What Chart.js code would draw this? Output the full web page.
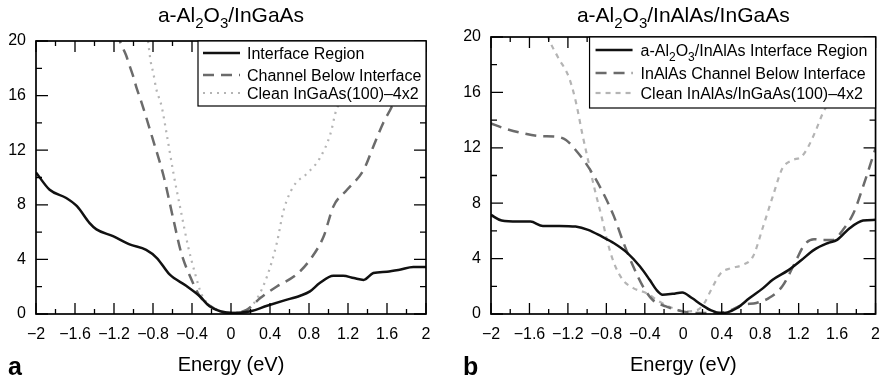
<!DOCTYPE html>
<html><head><meta charset="utf-8">
<script src="https://cdn.jsdelivr.net/npm/chart.js@4"></script>
<style>
html,body{margin:0;padding:0;background:#fff;}
#wrap{position:relative;width:891px;height:384px;overflow:hidden;}
canvas{position:absolute;top:0;}
</style>
</head><body>
<div id="wrap">
<canvas id="ca" width="445" height="384" style="left:0px"></canvas>
<canvas id="cb" width="446" height="384" style="left:445px"></canvas>
</div>
<script>
// ---------- data ----------
const xTicks = [-2, -1.6, -1.2, -0.8, -0.4, 0, 0.4, 0.8, 1.2, 1.6, 2];
const yTicks = [0, 4, 8, 12, 16, 20];
const xAxisTitle = 'Energy (eV)';

const titleA = 'a-Al_2O_3/InGaAs';
const titleB = 'a-Al_2O_3/InAlAs/InGaAs';

const labelsA = ['Interface Region', 'Channel Below Interface', 'Clean InGaAs(100)\u20134x2'];
const labelsB = ['a-Al_2O_3/InAlAs Interface Region', 'InAlAs Channel Below Interface', 'Clean InAlAs/InGaAs(100)\u20134x2'];

// panel a
const energyA1 = [-2, -1.86, -1.69, -1.58, -1.45, -1.38, -1.21, -1.04, -0.87, -0.76, -0.63, -0.46, -0.32, -0.22, -0.11, 0.02, 0.2, 0.37, 0.54, 0.71, 0.81, 0.91, 1.05, 1.15, 1.26, 1.36, 1.46, 1.6, 1.73, 1.87, 2];
const valuesA1 = [10.37, 9.1, 8.5, 7.9, 6.66, 6.2, 5.7, 5.1, 4.7, 4.1, 2.9, 2.07, 1.3, 0.56, 0.2, 0.07, 0.2, 0.6, 0.98, 1.34, 1.66, 2.27, 2.8, 2.8, 2.63, 2.5, 3.0, 3.1, 3.24, 3.44, 3.44];

const energyA2 = [-1.17, -1.131, -1.077, -1.036, -1.002, -0.967, -0.926, -0.8, -0.69, -0.59, -0.51, -0.42, -0.32, -0.18, -0.01, 0.16, 0.3, 0.47, 0.67, 0.81, 0.95, 1.05, 1.19, 1.36, 1.46, 1.56, 1.65, 1.75, 1.85, 1.93];
const valuesA2 = [20.6, 19.83, 18.97, 18.1, 17.39, 16.53, 15.68, 12.76, 10.07, 6.9, 4.46, 2.76, 1.3, 0.44, 0.07, 0.3, 1.17, 2.02, 2.88, 3.97, 5.68, 7.88, 9.1, 10.56, 12.27, 13.98, 15.2, 17.0, 19.0, 20.6];

const energyA3 = [-0.87, -0.851, -0.824, -0.797, -0.769, -0.711, -0.66, -0.59, -0.51, -0.44, -0.37, -0.3, -0.18, -0.01, 0.16, 0.26, 0.37, 0.47, 0.54, 0.64, 0.78, 0.91, 1.02, 1.08, 1.135, 1.2, 1.26, 1.3];
const valuesA3 = [21.0, 20.0, 18.5, 17.66, 16.56, 15.19, 13.2, 10.3, 7.4, 4.95, 3.0, 1.41, 0.44, 0.07, 0.3, 1.05, 2.76, 5.2, 7.6, 9.34, 10.3, 11.4, 13.2, 14.95, 15.7, 17.5, 19.5, 20.8];

// panel b
const energyB1 = [-2, -1.89, -1.72, -1.59, -1.46, -1.29, -1.12, -0.99, -0.85, -0.72, -0.58, -0.45, -0.35, -0.28, -0.215, -0.11, -0.01, 0.09, 0.19, 0.29, 0.39, 0.46, 0.56, 0.69, 0.83, 0.93, 1.09, 1.23, 1.36, 1.5, 1.6, 1.73, 1.87, 2];
const valuesB1 = [7.15, 6.75, 6.67, 6.67, 6.36, 6.36, 6.31, 6.07, 5.6, 5.11, 4.4, 3.43, 2.47, 1.75, 1.39, 1.46, 1.56, 1.15, 0.67, 0.26, 0.07, 0.12, 0.43, 1.15, 1.87, 2.47, 3.15, 3.9, 4.63, 5.11, 5.35, 6.19, 6.75, 6.8];

const energyB2 = [-2, -1.86, -1.66, -1.49, -1.32, -1.22, -1.12, -0.99, -0.85, -0.72, -0.62, -0.52, -0.42, -0.32, -0.18, -0.01, 0.15, 0.32, 0.46, 0.62, 0.76, 0.89, 1.03, 1.16, 1.26, 1.36, 1.46, 1.56, 1.66, 1.77, 1.87, 2];
const valuesB2 = [13.76, 13.4, 13.04, 12.85, 12.8, 12.56, 11.84, 10.64, 8.96, 7.03, 5.11, 3.43, 2.0, 1.03, 0.55, 0.19, 0.07, 0.07, 0.19, 0.67, 0.8, 1.15, 2.0, 3.67, 5.0, 5.4, 5.35, 5.35, 6.07, 7.27, 9.2, 11.96];

const energyB3 = [-1.44, -1.406, -1.305, -1.19, -1.12, -1.05, -0.99, -0.92, -0.85, -0.785, -0.72, -0.63, -0.52, -0.38, -0.25, -0.11, 0.02, 0.15, 0.22, 0.29, 0.39, 0.49, 0.62, 0.725, 0.83, 0.93, 1.03, 1.13, 1.23, 1.3, 1.38, 1.45, 1.5, 1.56, 1.62];
const valuesB3 = [20.8, 20, 18.56, 17.1, 15.4, 13.0, 11.1, 8.96, 7.03, 5.11, 3.67, 2.47, 1.87, 1.5, 0.9, 0.43, 0.19, 0.3, 0.8, 1.75, 2.95, 3.3, 3.55, 4.15, 6.3, 8.47, 10.5, 11.1, 11.36, 12.08, 13.28, 14.48, 15.2, 16.8, 18.5];

// ---------- helpers ----------
const FONT = '"Liberation Sans", Arial, Helvetica, sans-serif';
const pts = (xs, ys) => xs.map((x, i) => ({x: x, y: ys[i]}));

function parseRich(s) {
  const out = [];
  const re = /_(\d)/g;
  let last = 0, m;
  while ((m = re.exec(s)) !== null) {
    if (m.index > last) out.push([s.slice(last, m.index), false]);
    out.push([m[1], true]);
    last = re.lastIndex;
  }
  if (last < s.length) out.push([s.slice(last), false]);
  return out;
}
function drawRich(ctx, str, x, y, size, align) {
  const parts = parseRich(str);
  const base = size + 'px ' + FONT;
  const sub = Math.round(size * 0.72) + 'px ' + FONT;
  let w = 0;
  parts.forEach(p => { ctx.font = p[1] ? sub : base; w += ctx.measureText(p[0]).width; });
  let cx = align === 'center' ? x - w / 2 : x;
  ctx.textAlign = 'left';
  ctx.textBaseline = 'alphabetic';
  parts.forEach(p => {
    ctx.font = p[1] ? sub : base;
    ctx.fillText(p[0], cx, y + (p[1] ? size * 0.3 : 0));
    cx += ctx.measureText(p[0]).width;
  });
}
const fmt = v => {
  const r = Math.round(v * 10) / 10;
  return (r < 0 ? '\u2212' : '') + String(Math.abs(r));
};

const decor = {
  id: 'decor',
  afterDatasetsDraw(chart, args, opts) {
    const ctx = chart.ctx;
    const a = chart.chartArea;
    const xs = chart.scales.x, ys = chart.scales.y;
    ctx.save();
    // frame
    ctx.strokeStyle = '#000';
    ctx.lineWidth = 1.7;
    ctx.setLineDash([]);
    ctx.strokeRect(a.left, a.top, a.right - a.left, a.bottom - a.top);
    // ticks (inward)
    ctx.lineWidth = 1.3;
    ctx.beginPath();
    for (let i = 0; i < xTicks.length; i++) {
      const px = xs.getPixelForValue(xTicks[i]);
      ctx.moveTo(px, a.bottom); ctx.lineTo(px, a.bottom - 11);
      ctx.moveTo(px, a.top); ctx.lineTo(px, a.top + 11);
      if (i < xTicks.length - 1) {
        const pm = xs.getPixelForValue((xTicks[i] + xTicks[i + 1]) / 2);
        ctx.moveTo(pm, a.bottom); ctx.lineTo(pm, a.bottom - 5);
        ctx.moveTo(pm, a.top); ctx.lineTo(pm, a.top + 5);
      }
    }
    for (let i = 0; i < yTicks.length; i++) {
      const py = ys.getPixelForValue(yTicks[i]);
      ctx.moveTo(a.left, py); ctx.lineTo(a.left + 12, py);
      ctx.moveTo(a.right, py); ctx.lineTo(a.right - 12, py);
      if (i < yTicks.length - 1) {
        const pm = ys.getPixelForValue((yTicks[i] + yTicks[i + 1]) / 2);
        ctx.moveTo(a.left, pm); ctx.lineTo(a.left + 6, pm);
        ctx.moveTo(a.right, pm); ctx.lineTo(a.right - 6, pm);
      }
    }
    ctx.stroke();
    // legend
    const L = opts.legend;
    const bx = a.right - L.width, by = a.top + L.dy;
    ctx.fillStyle = '#fff';
    ctx.fillRect(bx, by, L.width, L.height);
    ctx.strokeStyle = '#000';
    ctx.lineWidth = 1.2;
    ctx.strokeRect(bx, by, L.width, L.height);
    chart.data.datasets.forEach((ds, i) => {
      const ry = by + L.rows[i];
      ctx.save();
      ctx.strokeStyle = ds.borderColor;
      ctx.lineWidth = ds.borderWidth;
      ctx.setLineDash(ds.borderDash || []);
      ctx.beginPath();
      ctx.moveTo(bx + L.lineX0, ry);
      ctx.lineTo(bx + L.lineX1, ry);
      ctx.stroke();
      ctx.restore();
      ctx.fillStyle = '#000';
      drawRich(ctx, ds.label, bx + L.textX, ry + 6, L.font, 'left');
    });
    // title
    ctx.fillStyle = '#000';
    drawRich(ctx, opts.title, (a.left + a.right) / 2, opts.titleY, 21, 'center');
    // panel letter
    ctx.font = 'bold 25px ' + FONT;
    ctx.textAlign = 'left';
    ctx.textBaseline = 'alphabetic';
    ctx.fillText(opts.letter, opts.letterX, 375);
    ctx.restore();
  }
};

function makeChart(id, series, labels, title, letter, letterX, yWidth, pad, legend, colors, dashes, widths) {
  const datasets = series.map((s, i) => ({
    label: labels[i],
    data: pts(s[0], s[1]),
    borderColor: colors[i],
    borderDash: dashes[i],
    borderWidth: widths[i],
    pointRadius: 0,
    fill: false,
    cubicInterpolationMode: 'monotone',
    clip: 0,
    order: i
  }));
  return new Chart(document.getElementById(id), {
    type: 'line',
    data: {datasets: datasets},
    options: {
      responsive: false,
      animation: false,
      devicePixelRatio: 1,
      layout: {padding: pad},
      plugins: {
        legend: {display: false},
        tooltip: {enabled: false},
        decor: {title: title, titleY: 22, letter: letter, letterX: letterX, legend: legend}
      },
      scales: {
        x: {
          type: 'linear', min: -2, max: 2,
          afterBuildTicks: sc => { sc.ticks = xTicks.map(v => ({value: v})); },
          afterFit: sc => { sc.height = 70; },
          grid: {display: false, drawTicks: false},
          border: {display: false},
          ticks: {autoSkip: false, maxRotation: 0, padding: 11, color: '#000',
                  font: {family: FONT, size: 16}, callback: v => fmt(v)},
          title: {display: true, text: xAxisTitle, color: '#000',
                  font: {family: FONT, size: 20}, padding: {top: 0, bottom: 7}}
        },
        y: {
          type: 'linear', min: 0, max: 20,
          afterBuildTicks: sc => { sc.ticks = yTicks.map(v => ({value: v})); },
          afterFit: sc => { sc.width = yWidth; },
          grid: {display: false, drawTicks: false},
          border: {display: false},
          ticks: {padding: 10, color: '#000', font: {family: FONT, size: 16},
                  callback: v => fmt(v)}
        }
      }
    },
    plugins: [decor]
  });
}

const colors = ['#111111', '#6b6b6b', '#b4b4b4'];
const widths = [2.5, 2.5, 2.2];

makeChart('ca',
  [[energyA1, valuesA1], [energyA2, valuesA2], [energyA3, valuesA3]],
  labelsA, titleA, 'a', 8, 36,
  {left: 0, right: 19, top: 41, bottom: 0},
  {width: 228, height: 65, dy: 0, rows: [12, 34, 52], lineX0: 5, lineX1: 42, textX: 49, font: 16},
  colors, [[], [11, 7], [2, 5]], widths);

makeChart('cb',
  [[energyB1, valuesB1], [energyB2, valuesB2], [energyB3, valuesB3]],
  labelsB, titleB, 'b', 18, 46,
  {left: 0, right: 3, top: 37, bottom: 0},
  {width: 286, height: 71, dy: 0, rows: [13, 36, 56], lineX0: 6, lineX1: 43, textX: 51, font: 16},
  colors, [[], [11, 7], [5, 5]], widths);
</script>
</body></html>
